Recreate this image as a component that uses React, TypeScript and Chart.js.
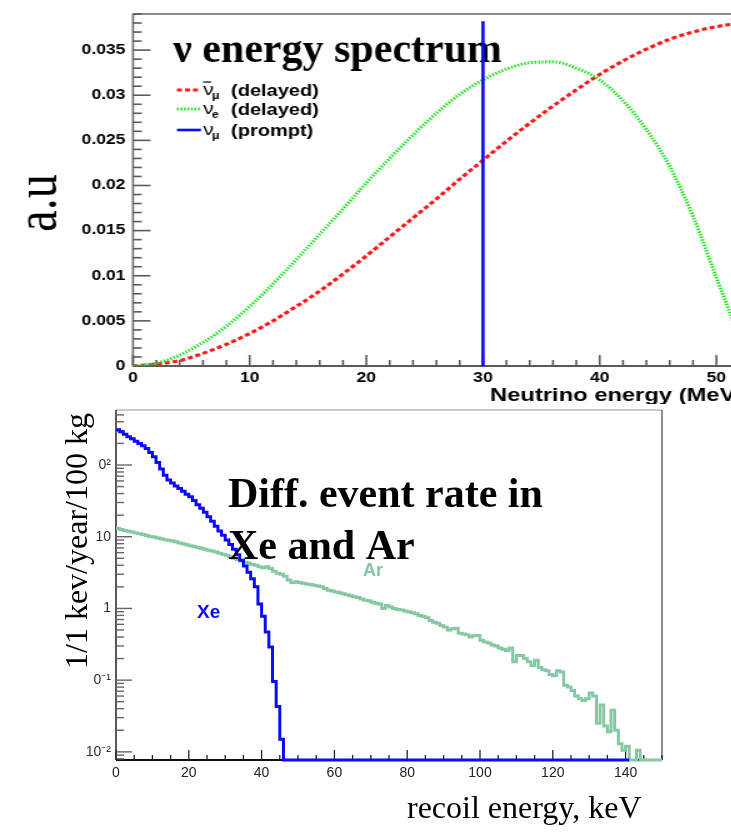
import React, { useEffect, useRef } from 'react';
import { Chart, registerables } from 'chart.js';

Chart.register(...registerables);

// ---------------- Upper panel: neutrino energy spectrum ----------------
const energyMeV = [0, 2, 4, 6, 8, 10, 12, 14, 16, 18, 20, 22, 24, 26, 28, 30, 32, 34, 36, 38, 40, 42, 44, 46, 48, 50, 52, 52.8];
const numuBarDelayed = [0, 0.0002, 0.0006, 0.0014, 0.0024, 0.0036, 0.005, 0.0066, 0.0083, 0.0102, 0.0122, 0.0143, 0.0164, 0.0185, 0.0207, 0.0228, 0.0249, 0.0269, 0.0288, 0.0306, 0.0323, 0.0338, 0.0351, 0.0362, 0.037, 0.0376, 0.0379, 0.0379];
const nueDelayed = [0, 0.0003, 0.0012, 0.0026, 0.0044, 0.0066, 0.0091, 0.0118, 0.0146, 0.0174, 0.0203, 0.023, 0.0256, 0.028, 0.0301, 0.0317, 0.0329, 0.0336, 0.0337, 0.033, 0.0317, 0.0294, 0.0262, 0.0221, 0.0166, 0.0098, 0.003, 0];
const numuPromptEnergy = [30, 30];
const numuPromptLevel = [0, 0.0382];
const topYMax = 0.039;
const topXMax = 52.8;

// ---------------- Lower panel: differential event rate ----------------
const recoilBinKeV = 1;
const xeRate = [
  310, 290, 268, 248, 232, 215, 200, 186, 170, 150,
  130, 108, 88, 72, 62, 56, 51, 47, 43, 39,
  36, 32, 28, 25, 22, 19, 16.5, 14, 12, 10.5,
  9, 7.8, 6.7, 5.6, 4.7, 3.9, 3.2, 2.6, 2.0, 1.15,
  0.78, 0.47, 0.29, 0.096, 0.043, 0.015, 0, 0, 0, 0,
  0, 0, 0, 0, 0, 0, 0, 0, 0, 0,
  0, 0, 0, 0, 0, 0, 0, 0, 0, 0,
  0, 0, 0, 0, 0, 0, 0, 0, 0, 0,
  0, 0, 0, 0, 0, 0, 0, 0, 0, 0,
  0, 0, 0, 0, 0, 0, 0, 0, 0, 0,
  0, 0, 0, 0, 0, 0, 0, 0, 0, 0,
  0, 0, 0, 0, 0, 0, 0, 0, 0, 0,
  0, 0, 0, 0, 0, 0, 0, 0, 0, 0,
  0, 0, 0, 0, 0, 0, 0, 0, 0, 0,
  0
];
const arRate = [
  13.1, 12.6, 12.2, 11.9, 11.6, 11.3, 11.0, 10.7, 10.4, 10.1,
  9.9, 9.6, 9.4, 9.1, 8.9, 8.7, 8.5, 8.2, 8.0, 7.7,
  7.5, 7.3, 7.1, 6.9, 6.7, 6.5, 6.3, 6.1, 5.9, 5.7,
  5.5, 5.3, 5.0, 4.8, 4.6, 4.4, 4.3, 4.1, 4.0, 3.8,
  3.7, 3.8, 3.6, 3.3, 3.1, 3.0, 2.8, 2.5, 2.3, 2.35,
  2.3, 2.25, 2.2, 2.15, 2.1, 2.05, 2.0, 1.9, 1.8, 1.75,
  1.7, 1.65, 1.6, 1.55, 1.5, 1.45, 1.42, 1.35, 1.3, 1.28,
  1.22, 1.18, 1.15, 1.0, 1.1, 1.05, 1.0, 0.97, 0.95, 0.92,
  0.9, 0.87, 0.84, 0.8, 0.77, 0.74, 0.68, 0.64, 0.62, 0.58,
  0.55, 0.5, 0.52, 0.53, 0.45, 0.44, 0.43, 0.4, 0.42, 0.42,
  0.36, 0.34, 0.33, 0.31, 0.3, 0.28, 0.27, 0.26, 0.28, 0.18,
  0.22, 0.22, 0.2, 0.18, 0.16, 0.19, 0.15, 0.14, 0.135, 0.12,
  0.115, 0.135, 0.13, 0.085, 0.08, 0.072, 0.06, 0.055, 0.052, 0.055,
  0.066, 0.06, 0.025, 0.045, 0.023, 0.019, 0.038, 0.02, 0.013, 0.0105,
  0.012, 0, 0, 0.0105, 0, 0, 0, 0, 0, 0
];
const botYMin = 0.0077;
const botYMax = 585;
const botXMax = 150;
const decadeValues = [0.01, 0.1, 1, 10, 100];
const decadeLabels = ['10⁻²', '0⁻¹', '1', '10', '0²'];

// ---------------- layout constants ----------------
const SX = 1.25; // the upper figure is horizontally stretched in the reference
const TOP_W = 640;
const TOP_H = 404;
const TOP_LEFT = 133 / SX;
const TOP_PLOT_TOP = 14;
const TOP_PLOT_BOTTOM = 366;
const TOP_RIGHT = TOP_LEFT + (topXMax * 11.667) / SX;

const BOT_TOP = 405;
const BOT_W = 731;
const BOT_H = 432;
const BOT_LEFT = 116;
const BOT_RIGHT = 662;
const BOT_PLOT_TOP = 5;
const BOT_PLOT_BOTTOM = 355;

const SANS = '"Liberation Sans", Arial, sans-serif';
const SERIF = '"Liberation Serif", "Times New Roman", serif';

function seg(ctx: CanvasRenderingContext2D, x1: number, y1: number, x2: number, y2: number) {
  ctx.beginPath();
  ctx.moveTo(x1, y1);
  ctx.lineTo(x2, y2);
  ctx.stroke();
}

const RED = '#ff1a1a';
const GREEN = '#1fe01f';
const BLUE = '#0a0aff';
const AR_GREEN = '#84c8a4';

const redDash = [4, 2.4];
const greenDot = [1.4, 1.4];

const topDecor = {
  id: 'topDecor',
  beforeDatasetsDraw(chart: any) {
    const { ctx, chartArea: a } = chart;
    const xs = chart.scales.x;
    const ys = chart.scales.y;
    ctx.save();
    ctx.lineCap = 'butt';
    // frame
    ctx.strokeStyle = '#8c8c8c';
    ctx.lineWidth = 2;
    seg(ctx, a.left, a.top, chart.width, a.top);
    ctx.strokeStyle = '#707070';
    ctx.lineWidth = 1.6;
    seg(ctx, a.left, a.top, a.left, a.bottom);
    ctx.strokeStyle = '#5a5a5a';
    ctx.lineWidth = 2;
    seg(ctx, a.left, a.bottom, chart.width, a.bottom);
    // y ticks (inside)
    ctx.strokeStyle = '#5a5a5a';
    ctx.lineWidth = 1.6;
    for (let k = 0; k * 0.001 <= ys.max + 1e-9; k++) {
      const py = ys.getPixelForValue(k * 0.001);
      const len = k % 5 === 0 ? 14 : 7;
      seg(ctx, a.left, py, a.left + len, py);
    }
    // x ticks (inside)
    for (let k = 0; k * 2 <= xs.max; k++) {
      const px = xs.getPixelForValue(k * 2);
      const len = k % 5 === 0 ? 11 : 6;
      seg(ctx, px, a.bottom, px, a.bottom - len);
    }
    // big title (not stretched in the reference)
    ctx.save();
    ctx.scale(1 / SX, 1);
    ctx.fillStyle = '#000';
    ctx.font = `bold 42px ${SERIF}`;
    ctx.textAlign = 'left';
    ctx.textBaseline = 'alphabetic';
    ctx.fillText('ν energy spectrum', 173, 62);
    ctx.restore();
    ctx.restore();
  },
  afterDatasetsDraw(chart: any) {
    const { ctx } = chart;
    ctx.save();
    // legend
    const rows = [
      { y: 90, color: RED, dash: redDash, width: 3, sub: 'μ', bar: true, text: '(delayed)' },
      { y: 109, color: GREEN, dash: greenDot, width: 3, sub: 'e', bar: false, text: '(delayed)' },
      { y: 130, color: BLUE, dash: [], width: 2.6, sub: 'μ', bar: false, text: '(prompt)' },
    ];
    const x0 = 177 / SX;
    const x1 = 201 / SX;
    rows.forEach((r) => {
      ctx.strokeStyle = r.color;
      ctx.lineWidth = r.width;
      ctx.setLineDash(r.dash);
      seg(ctx, x0, r.y, x1, r.y);
      ctx.setLineDash([]);
      ctx.fillStyle = '#000';
      ctx.textAlign = 'left';
      ctx.textBaseline = 'alphabetic';
      ctx.font = `17px ${SANS}`;
      ctx.fillText('ν', 203 / SX, r.y + 5);
      ctx.font = `bold 10px ${SANS}`;
      ctx.fillText(r.sub, 212 / SX, r.y + 9);
      ctx.font = `bold 16px ${SANS}`;
      ctx.fillText(r.text, 231 / SX, r.y + 5.5);
      if (r.bar) {
        ctx.strokeStyle = '#000';
        ctx.lineWidth = 1.2;
        seg(ctx, 203 / SX, r.y - 8, 211 / SX, r.y - 8);
      }
    });
    // x-axis title
    ctx.fillStyle = '#000';
    ctx.font = `bold 19px ${SANS}`;
    ctx.textAlign = 'left';
    ctx.textBaseline = 'alphabetic';
    ctx.fillText('Neutrino energy (MeV)', 490 / SX, 401);
    // y-axis title
    ctx.save();
    ctx.translate(45, 203);
    ctx.rotate(-Math.PI / 2);
    ctx.font = `48px ${SERIF}`;
    ctx.textAlign = 'center';
    ctx.textBaseline = 'alphabetic';
    ctx.fillText('a.u', 0, 0);
    ctx.restore();
    ctx.restore();
  },
};

const botDecor = {
  id: 'botDecor',
  beforeDatasetsDraw(chart: any) {
    const { ctx, chartArea: a } = chart;
    const xs = chart.scales.x;
    const ys = chart.scales.y;
    ctx.save();
    ctx.lineCap = 'butt';
    ctx.strokeStyle = '#9a9a9a';
    ctx.lineWidth = 1.2;
    seg(ctx, a.left, a.top, a.right, a.top);
    ctx.strokeStyle = '#444';
    seg(ctx, a.right, a.top, a.right, a.bottom);
    ctx.strokeStyle = '#222';
    ctx.lineWidth = 1.5;
    seg(ctx, a.left, a.top, a.left, a.bottom);
    ctx.strokeStyle = '#111';
    ctx.lineWidth = 2;
    seg(ctx, a.left, a.bottom, a.right, a.bottom);
    // log y ticks
    ctx.strokeStyle = '#666';
    ctx.lineWidth = 1.4;
    for (let e = -3; e <= 2; e++) {
      for (let k = 1; k <= 9; k++) {
        const v = k * Math.pow(10, e);
        if (v < ys.min || v > ys.max) continue;
        const py = ys.getPixelForValue(v);
        seg(ctx, a.left, py, a.left + (k === 1 ? 16 : 8), py);
      }
    }
    // x ticks
    ctx.strokeStyle = '#222';
    ctx.lineWidth = 1.3;
    for (let v = 0; v <= xs.max; v += 5) {
      const px = xs.getPixelForValue(v);
      seg(ctx, px, a.bottom, px, a.bottom - (v % 20 === 0 ? 10 : 5));
    }
    ctx.restore();
  },
  afterDatasetsDraw(chart: any) {
    const { ctx } = chart;
    ctx.save();
    ctx.textAlign = 'left';
    ctx.textBaseline = 'alphabetic';
    ctx.fillStyle = '#000';
    ctx.font = `bold 42px ${SERIF}`;
    ctx.fillText('Diff. event rate in', 228, 507 - BOT_TOP);
    ctx.fillText('Xe and Ar', 228, 559 - BOT_TOP);
    ctx.font = `bold 18px ${SANS}`;
    ctx.fillStyle = AR_GREEN;
    ctx.fillText('Ar', 363, 576 - BOT_TOP);
    ctx.font = `bold 19px ${SANS}`;
    ctx.fillStyle = BLUE;
    ctx.fillText('Xe', 197, 618 - BOT_TOP);
    // axis titles
    ctx.fillStyle = '#000';
    ctx.font = `32px ${SERIF}`;
    ctx.fillText('recoil energy, keV', 407, 818 - BOT_TOP);
    ctx.save();
    ctx.translate(87, 541 - BOT_TOP);
    ctx.rotate(-Math.PI / 2);
    ctx.textAlign = 'center';
    ctx.fillText('1/1 kev/year/100 kg', 0, 0);
    ctx.restore();
    ctx.restore();
  },
};

function pts(xs: number[], ys: number[]) {
  return xs.map((x, i) => ({ x, y: ys[i] }));
}

function histPoints(vals: number[], floor: number) {
  const out: { x: number; y: number }[] = [];
  vals.forEach((v, i) => {
    const y = v > 0 ? v : floor;
    out.push({ x: i * recoilBinKeV, y }, { x: (i + 1) * recoilBinKeV, y });
  });
  return out;
}

const noPad = (s: any) => {
  s.paddingTop = 0;
  s.paddingBottom = 0;
  s.paddingLeft = 0;
  s.paddingRight = 0;
};

function topConfig(): any {
  return {
    type: 'line',
    data: {
      datasets: [
        { label: 'νμ (prompt)', data: pts(numuPromptEnergy, numuPromptLevel), borderColor: BLUE, borderWidth: 2.6, pointRadius: 0, order: 0 },
        { label: 'νe (delayed)', data: pts(energyMeV, nueDelayed), borderColor: GREEN, borderWidth: 3, borderDash: greenDot, pointRadius: 0, cubicInterpolationMode: 'monotone', order: 1 },
        { label: 'anti-νμ (delayed)', data: pts(energyMeV, numuBarDelayed), borderColor: RED, borderWidth: 3.2, borderDash: redDash, pointRadius: 0, cubicInterpolationMode: 'monotone', order: 2 },
      ],
    },
    options: {
      animation: false,
      responsive: false,
      devicePixelRatio: 1,
      layout: { padding: { top: TOP_PLOT_TOP, right: TOP_W - TOP_RIGHT, left: 0, bottom: 0 } },
      plugins: { legend: { display: false }, tooltip: { enabled: false } },
      scales: {
        x: {
          type: 'linear',
          min: 0,
          max: topXMax,
          grid: { display: false, drawTicks: false },
          border: { display: false },
          ticks: { stepSize: 10, includeBounds: false, padding: 4, color: '#000', maxRotation: 0, autoSkip: false, font: { family: SANS, weight: 'bold', size: 14 } },
          afterFit: (s: any) => { s.height = TOP_H - TOP_PLOT_BOTTOM; noPad(s); },
        },
        y: {
          type: 'linear',
          min: 0,
          max: topYMax,
          grid: { display: false, drawTicks: false },
          border: { display: false },
          ticks: {
            stepSize: 0.005,
            includeBounds: false,
            padding: 6,
            color: '#000',
            autoSkip: false,
            font: { family: SANS, weight: 'bold', size: 14 },
            callback: (v: number) => (v === 0 ? '0' : String(+v.toFixed(3))),
          },
          afterFit: (s: any) => { s.width = TOP_LEFT; noPad(s); },
        },
      },
    },
    plugins: [topDecor],
  };
}

function botConfig(): any {
  return {
    type: 'line',
    data: {
      datasets: [
        { label: 'Xe', data: histPoints(xeRate, botYMin), borderColor: BLUE, borderWidth: 3, pointRadius: 0, clip: false, order: 0 },
        { label: 'Ar', data: histPoints(arRate, botYMin), borderColor: AR_GREEN, borderWidth: 3, pointRadius: 0, clip: false, order: 1 },
      ],
    },
    options: {
      animation: false,
      responsive: false,
      devicePixelRatio: 1,
      layout: { padding: { top: BOT_PLOT_TOP, right: BOT_W - BOT_RIGHT, left: 0, bottom: 0 } },
      plugins: { legend: { display: false }, tooltip: { enabled: false } },
      scales: {
        x: {
          type: 'linear',
          min: 0,
          max: botXMax,
          grid: { display: false, drawTicks: false },
          border: { display: false },
          ticks: { stepSize: 20, includeBounds: false, padding: 5, color: '#222', maxRotation: 0, autoSkip: false, font: { family: SANS, size: 14 } },
          afterFit: (s: any) => { s.height = BOT_H - BOT_PLOT_BOTTOM; noPad(s); },
        },
        y: {
          type: 'logarithmic',
          min: botYMin,
          max: botYMax,
          grid: { display: false, drawTicks: false },
          border: { display: false },
          afterBuildTicks: (s: any) => { s.ticks = decadeValues.map((v) => ({ value: v })); },
          ticks: {
            padding: 5,
            color: '#333',
            autoSkip: false,
            font: { family: SANS, size: 14 },
            callback: (_v: number, i: number) => decadeLabels[i],
          },
          afterFit: (s: any) => { s.width = BOT_LEFT; noPad(s); },
        },
      },
    },
    plugins: [botDecor],
  };
}

export default function App() {
  const topRef = useRef<HTMLCanvasElement>(null);
  const botRef = useRef<HTMLCanvasElement>(null);
  useEffect(() => {
    const top = new Chart(topRef.current as HTMLCanvasElement, topConfig());
    const bot = new Chart(botRef.current as HTMLCanvasElement, botConfig());
    return () => {
      top.destroy();
      bot.destroy();
    };
  }, []);
  return (
    <div style={{ position: 'absolute', left: 0, top: 0, width: 731, height: 837, overflow: 'hidden', background: '#fff' }}>
      <canvas
        ref={topRef}
        width={TOP_W}
        height={TOP_H}
        style={{ position: 'absolute', left: 0, top: 0, width: TOP_W * SX, height: TOP_H }}
      />
      <canvas
        ref={botRef}
        width={BOT_W}
        height={BOT_H}
        style={{ position: 'absolute', left: 0, top: BOT_TOP, width: BOT_W, height: BOT_H, background: '#fff' }}
      />
    </div>
  );
}
